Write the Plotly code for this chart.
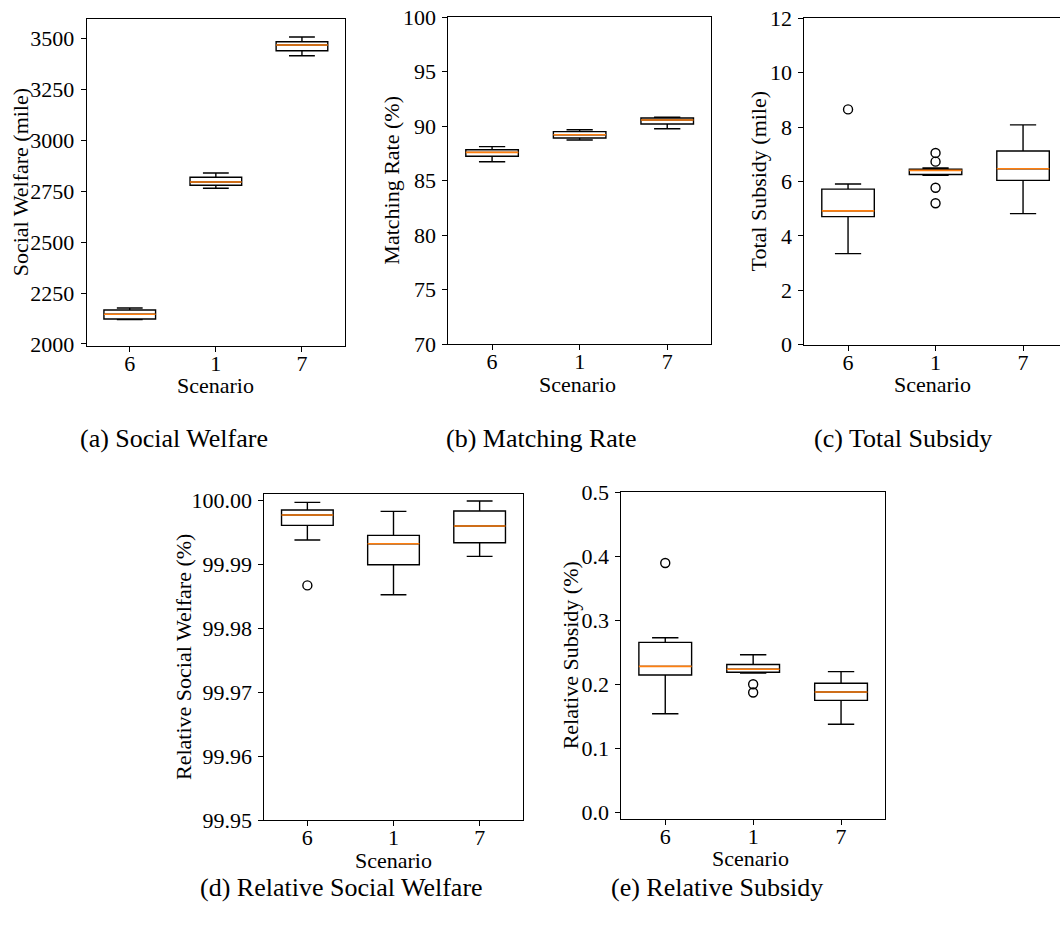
import plotly.graph_objects as go

W, H = 1060, 925

scenario_labels = ["6", "1", "7"]
positions = [1, 2, 3]

# (a) Social Welfare (mile)
welfare_lower = [2120, 2765, 3416]
welfare_q1 = [2123, 2780, 3441]
welfare_median = [2146, 2796, 3469]
welfare_q3 = [2167, 2819, 3485]
welfare_upper = [2177, 2840, 3508]
welfare_outliers = [[], [], []]
welfare_ticks = [2000, 2250, 2500, 2750, 3000, 3250, 3500]

# (b) Matching Rate (%)
match_lower = [86.74, 88.73, 89.77]
match_q1 = [87.24, 88.92, 90.20]
match_median = [87.60, 89.22, 90.57]
match_q3 = [87.84, 89.50, 90.75]
match_upper = [88.12, 89.68, 90.82]
match_outliers = [[], [], []]
match_ticks = [70, 75, 80, 85, 90, 95, 100]

# (c) Total Subsidy (mile)
subsidy_lower = [3.35, 6.23, 4.82]
subsidy_q1 = [4.71, 6.26, 6.04]
subsidy_median = [4.92, 6.41, 6.47]
subsidy_q3 = [5.72, 6.45, 7.12]
subsidy_upper = [5.91, 6.50, 8.08]
subsidy_outliers = [[8.65], [7.05, 6.73, 5.77, 5.20], []]
subsidy_ticks = [0, 2, 4, 6, 8, 10, 12]

# (d) Relative Social Welfare (%)
rel_welfare_lower = [99.99380, 99.98524, 99.99124]
rel_welfare_q1 = [99.99609, 99.98994, 99.99338]
rel_welfare_median = [99.99771, 99.99322, 99.99599]
rel_welfare_q3 = [99.99849, 99.99453, 99.99833]
rel_welfare_upper = [99.99969, 99.99828, 99.99990]
rel_welfare_outliers = [[99.98670], [], []]
rel_welfare_ticks = [99.95, 99.96, 99.97, 99.98, 99.99, 100.00]
rel_welfare_ticktext = ["99.95", "99.96", "99.97", "99.98", "99.99", "100.00"]

# (e) Relative Subsidy (%)
rel_subsidy_lower = [0.1540, 0.2175, 0.1374]
rel_subsidy_q1 = [0.2144, 0.2187, 0.1748]
rel_subsidy_median = [0.2279, 0.2234, 0.1878]
rel_subsidy_q3 = [0.2653, 0.2307, 0.2014]
rel_subsidy_upper = [0.2726, 0.2460, 0.2196]
rel_subsidy_outliers = [[0.3892], [0.200, 0.187], []]
rel_subsidy_ticks = [0.0, 0.1, 0.2, 0.3, 0.4, 0.5]
rel_subsidy_ticktext = ["0.0", "0.1", "0.2", "0.3", "0.4", "0.5"]

TICK_FONT = dict(family="Liberation Serif", size=22, color="black")
TITLE_FONT = dict(family="Liberation Serif", size=22, color="black")
CAPTION_FONT = dict(family="Liberation Serif", size=26, color="black")
BOX_W = 0.6
LW = 1.4
ORANGE = "#ff7f0e"

panels = [
    dict(lower=welfare_lower, q1=welfare_q1, med=welfare_median, q3=welfare_q3,
         upper=welfare_upper, out=welfare_outliers,
         ytitle="Social Welfare (mile)", caption="(a) Social Welfare",
         px=(86.7, 345.0), py=(19.0, 345.7), yrange=[1991.6, 3596.8],
         tickvals=welfare_ticks, ticktext=[str(t) for t in welfare_ticks],
         xrange=[0.5, 3.5], ytitle_x=20, cap=(174, 438), right_line=True),
    dict(lower=match_lower, q1=match_q1, med=match_median, q3=match_q3,
         upper=match_upper, out=match_outliers,
         ytitle="Matching Rate (%)", caption="(b) Matching Rate",
         px=(448.3, 711.0), py=(17.3, 344.0), yrange=[70, 100],
         tickvals=match_ticks, ticktext=[str(t) for t in match_ticks],
         xrange=[0.5, 3.5], ytitle_x=392, cap=(541.5, 438), right_line=True),
    dict(lower=subsidy_lower, q1=subsidy_q1, med=subsidy_median, q3=subsidy_q3,
         upper=subsidy_upper, out=subsidy_outliers,
         ytitle="Total Subsidy (mile)", caption="(c) Total Subsidy",
         px=(804.3, 1060.0), py=(18.3, 344.7), yrange=[0, 12],
         tickvals=subsidy_ticks, ticktext=[str(t) for t in subsidy_ticks],
         xrange=[0.5, 0.5 + (1060.0 - 804.3) / 87.5], ytitle_x=758,
         cap=(902.5, 438), right_line=False),
    dict(lower=rel_welfare_lower, q1=rel_welfare_q1, med=rel_welfare_median,
         q3=rel_welfare_q3, upper=rel_welfare_upper, out=rel_welfare_outliers,
         ytitle="Relative Social Welfare (%)",
         caption="(d) Relative Social Welfare",
         px=(264.3, 522.7), py=(494.0, 820.0), yrange=[99.95, 100.001],
         tickvals=rel_welfare_ticks, ticktext=rel_welfare_ticktext,
         xrange=[0.5, 3.5], ytitle_x=183, cap=(341.5, 887), right_line=True),
    dict(lower=rel_subsidy_lower, q1=rel_subsidy_q1, med=rel_subsidy_median,
         q3=rel_subsidy_q3, upper=rel_subsidy_upper, out=rel_subsidy_outliers,
         ytitle="Relative Subsidy (%)", caption="(e) Relative Subsidy",
         px=(621.3, 885.0), py=(492.0, 818.7), yrange=[-0.0099, 0.5],
         tickvals=rel_subsidy_ticks, ticktext=rel_subsidy_ticktext,
         xrange=[0.5, 3.5], ytitle_x=570, cap=(716.5, 887), right_line=True),
]

fig = go.Figure()
annotations = []
layout_axes = {}

for i, p in enumerate(panels, start=1):
    sfx = "" if i == 1 else str(i)
    xref, yref = "x" + sfx, "y" + sfx

    # boxes and whiskers from the summary statistics
    fig.add_trace(go.Box(
        x=positions, q1=p["q1"], median=p["med"], q3=p["q3"],
        lowerfence=p["lower"], upperfence=p["upper"],
        width=BOX_W, whiskerwidth=0.5, boxpoints=False,
        fillcolor="white", line=dict(color="black", width=LW),
        xaxis=xref, yaxis=yref, showlegend=False, hoverinfo="skip",
    ))

    # orange median lines drawn over each box
    mx, my = [], []
    for pos, m in zip(positions, p["med"]):
        mx += [pos - BOX_W / 2, pos + BOX_W / 2, None]
        my += [m, m, None]
    fig.add_trace(go.Scatter(
        x=mx, y=my, mode="lines", line=dict(color=ORANGE, width=1.6),
        xaxis=xref, yaxis=yref, showlegend=False, hoverinfo="skip",
    ))

    # outliers as open circles
    ox, oy = [], []
    for pos, vals in zip(positions, p["out"]):
        ox += [pos] * len(vals)
        oy += vals
    if ox:
        fig.add_trace(go.Scatter(
            x=ox, y=oy, mode="markers",
            marker=dict(symbol="circle-open", size=9,
                        color="black", line=dict(width=1.4, color="black")),
            xaxis=xref, yaxis=yref, showlegend=False, hoverinfo="skip",
        ))

    x0, x1 = p["px"]
    ytop, ybot = p["py"]
    layout_axes["xaxis" + sfx] = dict(
        domain=[x0 / W, x1 / W], anchor=yref, range=p["xrange"],
        tickvals=positions, ticktext=scenario_labels,
        ticks="outside", ticklen=5, tickwidth=1, tickcolor="black",
        ticklabelstandoff=-7,
        showline=True, linecolor="black", linewidth=1, mirror=True,
        showgrid=False, zeroline=False, tickfont=TICK_FONT, fixedrange=True,
        automargin=False,
    )
    layout_axes["yaxis" + sfx] = dict(
        domain=[1 - ybot / H, 1 - ytop / H], anchor=xref, range=p["yrange"],
        tickvals=p["tickvals"], ticktext=p["ticktext"],
        ticks="outside", ticklen=5, tickwidth=1, tickcolor="black",
        ticklabelstandoff=2,
        showline=True, linecolor="black", linewidth=1,
        mirror=p["right_line"],
        showgrid=False, zeroline=False, tickfont=TICK_FONT, fixedrange=True,
        automargin=False,
    )

    # axis titles
    annotations.append(dict(
        text="Scenario", x=(x0 + min(x1, x0 + 258.5)) / 2 / W,
        y=1 - (ybot + 40) / H, xref="paper", yref="paper",
        xanchor="center", yanchor="middle", showarrow=False, font=TITLE_FONT,
    ))
    annotations.append(dict(
        text=p["ytitle"], x=p["ytitle_x"] / W, y=1 - (ytop + ybot) / 2 / H,
        xref="paper", yref="paper", textangle=-90,
        xanchor="center", yanchor="middle", showarrow=False, font=TITLE_FONT,
    ))
    # sub-figure caption
    cx, cy = p["cap"]
    annotations.append(dict(
        text=p["caption"], x=cx / W, y=1 - cy / H, xref="paper", yref="paper",
        xanchor="center", yanchor="middle", showarrow=False, font=CAPTION_FONT,
    ))

fig.update_layout(
    width=W, height=H,
    margin=dict(l=0, r=0, t=0, b=0, autoexpand=False),
    paper_bgcolor="white", plot_bgcolor="white",
    annotations=annotations,
    **layout_axes,
)

fig.write_html("out.html", config={"displayModeBar": False})
